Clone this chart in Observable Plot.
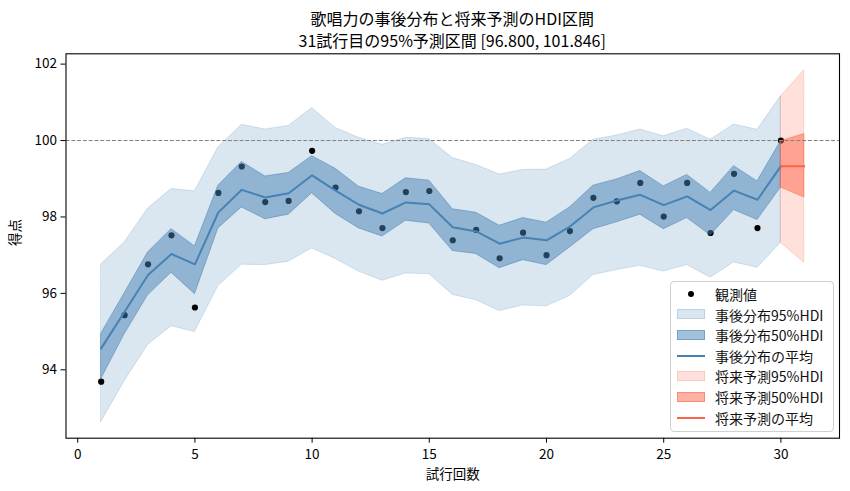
<!DOCTYPE html>
<html>
<head>
<meta charset="utf-8">
<script src="https://cdn.jsdelivr.net/npm/d3@7"></script>
<script src="https://cdn.jsdelivr.net/npm/@observablehq/plot@0.6"></script>
<style>
  html, body { margin: 0; padding: 0; background: #fff; }
  body { font-family: "Noto Sans CJK JP", "Noto Sans", sans-serif; }
  #wrap { position: relative; width: 850px; height: 491px; overflow: hidden; }
  #title { height: 48px; width: 850px; position: relative; }
  .tl { position: absolute; left: 65.5px; width: 773.5px; text-align: center; font-size: 16px; line-height: 1; color: #000; white-space: nowrap; }
  #legend { position: absolute; left: 670px; top: 280.5px; width: 164px; height: 151px; box-sizing: border-box;
            background: rgba(255,255,255,0.8); border: 1px solid #d0d0d0; border-radius: 4px; font-size: 14px; }
  .row { position: absolute; left: 0; height: 20px; width: 160px; }
  .lab { position: absolute; left: 44px; top: 0; line-height: 20px; white-space: nowrap; color: #111; }
</style>
</head>
<body>
<div id="wrap">
  <div id="title">
    <div class="tl" style="top:10px">歌唱力の事後分布と将来予測のHDI区間</div>
    <div class="tl" style="top:32px">31試行目の95%予測区間 [96.800, 101.846]</div>
  </div>
  <div id="chart"></div>
  <div id="legend"></div>
</div>
<script>
// ---- data ----
const trials = d3.range(1, 31);
const observed = [93.69, 95.43, 96.76, 97.52, 95.63, 98.63, 99.32, 98.39, 98.42, 99.73, 98.77, 98.15, 97.71, 98.65, 98.68, 97.39, 97.66, 96.92, 97.59, 97.00, 97.63, 98.50, 98.41, 98.89, 98.01, 98.89, 97.58, 99.13, 97.71, 100.00];
const postMean = [94.56, 95.52, 96.48, 97.03, 96.76, 98.12, 98.71, 98.51, 98.62, 99.09, 98.69, 98.32, 98.09, 98.38, 98.33, 97.73, 97.62, 97.30, 97.46, 97.39, 97.75, 98.25, 98.43, 98.58, 98.31, 98.54, 98.18, 98.69, 98.45, 99.33];
const post50Hi = [94.94, 96.00, 97.07, 97.68, 97.23, 98.82, 99.44, 99.06, 99.15, 99.59, 99.26, 98.79, 98.60, 99.01, 98.95, 98.20, 98.11, 97.77, 97.97, 97.85, 98.25, 98.82, 98.98, 99.20, 98.80, 99.10, 98.63, 99.33, 98.93, 99.98];
const post50Lo = [93.75, 94.93, 95.95, 96.54, 95.98, 97.70, 98.25, 97.94, 98.06, 98.62, 98.08, 97.70, 97.49, 97.90, 97.83, 97.11, 97.03, 96.66, 96.87, 96.74, 97.20, 97.68, 97.86, 98.06, 97.68, 97.97, 97.52, 98.18, 97.92, 98.77];
const post95Hi = [96.76, 97.33, 98.22, 98.73, 98.67, 99.82, 100.41, 100.29, 100.38, 100.85, 100.33, 100.07, 99.89, 100.07, 100.04, 99.54, 99.36, 99.11, 99.23, 99.24, 99.52, 100.02, 100.13, 100.29, 100.11, 100.31, 100.02, 100.42, 100.28, 101.16];
const post95Lo = [92.63, 93.70, 94.65, 95.14, 94.99, 96.19, 96.75, 96.74, 96.83, 97.18, 96.90, 96.57, 96.33, 96.52, 96.50, 95.96, 95.82, 95.54, 95.68, 95.66, 95.93, 96.48, 96.61, 96.72, 96.57, 96.74, 96.41, 96.81, 96.67, 97.32];

const predTrials = [30, 31];
const predMean = [99.33, 99.33];
const pred50Hi = [99.98, 100.17];
const pred50Lo = [98.77, 98.51];
const pred95Hi = [101.16, 101.846];
const pred95Lo = [97.32, 96.80];

const xTicks = [0, 5, 10, 15, 20, 25, 30];
const yTicks = [94, 96, 98, 100, 102];
const refLine = [100];

const post = trials.map((t, i) => ({t, obs: observed[i], mean: postMean[i], lo50: post50Lo[i], hi50: post50Hi[i], lo95: post95Lo[i], hi95: post95Hi[i]}));
const pred = predTrials.map((t, i) => ({t, mean: predMean[i], lo50: pred50Lo[i], hi50: pred50Hi[i], lo95: pred95Lo[i], hi95: pred95Hi[i]}));

const blue = "#4682b4";
const red = "#ff6347";

const chart = Plot.plot({
  width: 850,
  height: 443,
  marginTop: 5.3,
  marginBottom: 53.3,
  marginLeft: 65.5,
  marginRight: 11,
  style: {fontFamily: "'Noto Sans CJK JP', 'Noto Sans', sans-serif", fontSize: "13.5px", color: "#000", background: "transparent"},
  x: {domain: [-0.5, 32.5]},
  y: {domain: [92.21, 102.27]},
  marks: [
    Plot.areaY(post, {x: "t", y1: "lo95", y2: "hi95", fill: blue, fillOpacity: 0.2, stroke: blue, strokeOpacity: 0.2, strokeWidth: 1}),
    Plot.areaY(pred, {x: "t", y1: "lo95", y2: "hi95", fill: red, fillOpacity: 0.2, stroke: red, strokeOpacity: 0.2, strokeWidth: 1}),
    Plot.dot(post, {x: "t", y: "obs", r: 3.1, fill: "black"}),
    Plot.areaY(post, {x: "t", y1: "lo50", y2: "hi50", fill: blue, fillOpacity: 0.5, stroke: blue, strokeOpacity: 0.5, strokeWidth: 1}),
    Plot.areaY(pred, {x: "t", y1: "lo50", y2: "hi50", fill: red, fillOpacity: 0.5, stroke: red, strokeOpacity: 0.5, strokeWidth: 1}),
    Plot.line(post, {x: "t", y: "mean", stroke: blue, strokeWidth: 2}),
    Plot.line(pred, {x: "t", y: "mean", stroke: red, strokeWidth: 2}),
    Plot.ruleY(refLine, {stroke: "#808080", strokeWidth: 1, strokeDasharray: "4,1.8"}),
    Plot.axisX({ticks: xTicks, tickSize: 5, tickPadding: 6, label: null, fontSize: 13.5}),
    Plot.axisY({ticks: yTicks, tickSize: 5, tickPadding: 4, label: null, fontSize: 13.5}),
    Plot.text(["試行回数"], {frameAnchor: "bottom", lineAnchor: "middle", dy: 36, fontSize: 13.5, fill: "#000"}),
    Plot.text(["得点"], {frameAnchor: "left", dx: -50, rotate: -90, fontSize: 13.5, fill: "#000"}),
    Plot.frame({stroke: "black", strokeWidth: 1.1})
  ]
});
document.getElementById("chart").appendChild(chart);

// ---- legend ----
const legendItems = [
  {label: "観測値", kind: "dot", color: "black"},
  {label: "事後分布95%HDI", kind: "patch", color: "rgba(70,130,180,0.2)"},
  {label: "事後分布50%HDI", kind: "patch", color: "rgba(70,130,180,0.5)"},
  {label: "事後分布の平均", kind: "line", color: blue},
  {label: "将来予測95%HDI", kind: "patch", color: "rgba(255,99,71,0.2)"},
  {label: "将来予測50%HDI", kind: "patch", color: "rgba(255,99,71,0.5)"},
  {label: "将来予測の平均", kind: "line", color: red}
];
const lg = document.getElementById("legend");
legendItems.forEach((it, i) => {
  const row = document.createElement("div");
  row.className = "row";
  row.style.top = (2.5 + i * 20.6) + "px";
  const h = document.createElement("div");
  if (it.kind === "dot") {
    h.style.cssText = "position:absolute;left:16.5px;top:7px;width:6px;height:6px;border-radius:50%;background:" + it.color;
  } else if (it.kind === "patch") {
    h.style.cssText = "position:absolute;left:6px;top:4.5px;width:28px;height:10px;box-sizing:border-box;background:" + it.color + ";border:1px solid " + it.color;
  } else {
    h.style.cssText = "position:absolute;left:6px;top:9px;width:28px;height:2px;background:" + it.color;
  }
  const lab = document.createElement("div");
  lab.className = "lab";
  lab.textContent = it.label;
  row.appendChild(h);
  row.appendChild(lab);
  lg.appendChild(row);
});
</script>
</body>
</html>
